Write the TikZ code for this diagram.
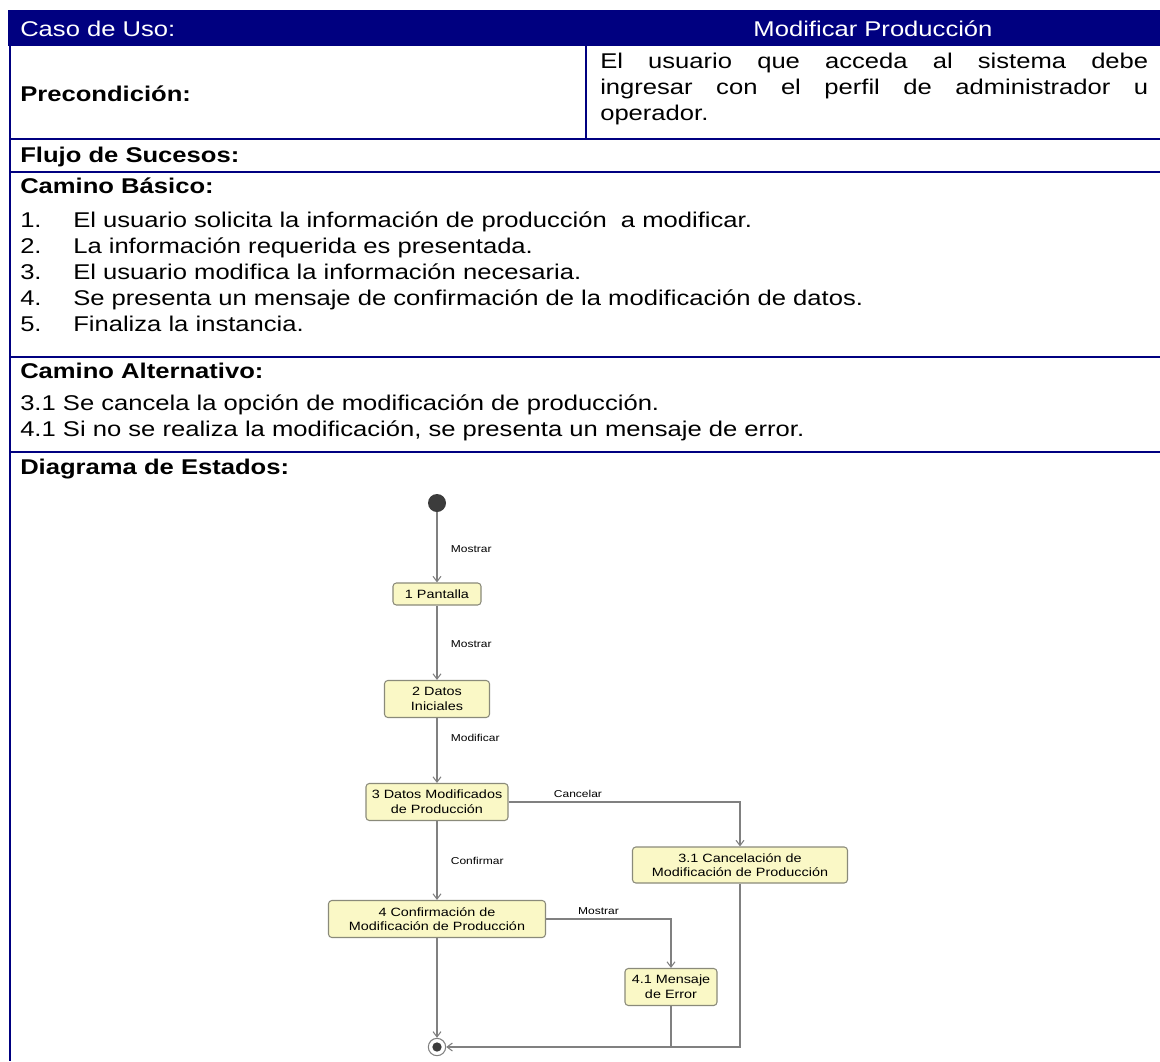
\documentclass[tikz,border=0pt]{standalone}
\usepackage{fontspec}
\setmainfont{Liberation Sans}[FakeStretch=1.2]
\newfontfamily\diagfont{Liberation Sans}[FakeStretch=1.2]
\usetikzlibrary{arrows.meta}
\definecolor{navy}{HTML}{000080}
\definecolor{statefill}{HTML}{FAF8C6}
\definecolor{stateline}{HTML}{8A8A7A}
\definecolor{wire}{HTML}{808080}
\definecolor{dot}{HTML}{3C3C3C}
\begin{document}
\begin{tikzpicture}[x=0.75pt,y=-0.75pt,
  rule/.style={navy, line width=1.5pt},
  txt/.style={anchor=base west, inner sep=0pt, font=\fontsize{16}{19}\selectfont},
  head/.style={anchor=base west, inner sep=0pt, font=\fontsize{16}{19}\selectfont\bfseries},
  state/.style={draw=stateline, fill=statefill, rounded corners=2.5pt, align=center,
    inner sep=1pt, line width=0.8pt, font=\diagfont\fontsize{9}{11}\selectfont},
  trans/.style={draw=wire, line width=0.8pt, -{Straight Barb[length=4pt,width=6pt]}},
  wireline/.style={draw=wire, line width=0.8pt},
  lbl/.style={font=\diagfont\fontsize{7.5}{9}\selectfont, inner sep=1pt},
]
\useasboundingbox (0,0) rectangle (1160,1061);

% ---- table frame ----
\fill[navy] (8,10) rectangle (1160,46);
\draw[rule] (10,46) -- (10,1061);
\draw[rule] (586,46) -- (586,139);
\draw[rule] (9,139) -- (1160,139);
\draw[rule] (9,172) -- (1160,172);
\draw[rule] (9,357) -- (1160,357);
\draw[rule] (9,452) -- (1160,452);

% ---- table texts ----
\node[txt, text=white] (caso) at (20,36) {Caso de Uso:};
\node[anchor=base, inner sep=0pt, text=white, font=\fontsize{16}{19}\selectfont] (nombre) at (873,36) {Modificar Producción};
\node[head] (pre) at (20,101) {Precondición:};
\node[txt] (pre1) at (600,68) {\makebox[411pt][s]{El usuario que acceda al sistema debe}};
\node[txt] (pre2) at (600,94) {\makebox[411pt][s]{ingresar con el perfil de administrador u}};
\node[txt] (pre3) at (600,120) {operador.};
\node[head] (flujo) at (20,162) {Flujo de Sucesos:};
\node[head] (basico) at (20,193) {Camino Básico:};
\foreach \n/\y/\t in {1/227/{El usuario solicita la información de producción\ \ a modificar.},
                      2/253/{La información requerida es presentada.},
                      3/279/{El usuario modifica la información necesaria.},
                      4/305/{Se presenta un mensaje de confirmación de la modificación de datos.},
                      5/331/{Finaliza la instancia.}} {
  \node[txt] (num\n) at (20,\y) {\n.};
  \node[txt] (paso\n) at (73,\y) {\t};
}
\node[head] (alterno) at (20,378) {Camino Alternativo:};
\node[txt] (alt1) at (20,410) {3.1 Se cancela la opción de modificación de producción.};
\node[txt] (alt2) at (20,436) {4.1 Si no se realiza la modificación, se presenta un mensaje de error.};
\node[head] (estados) at (20,474) {Diagrama de Estados:};

% ---- state diagram ----
\node[circle, fill=dot, minimum size=13.5pt, inner sep=0pt] (init) at (437,503) {};
\node[state, minimum width=66pt, minimum height=16.5pt] (s1) at (437,594) {1 Pantalla};
\node[state, minimum width=78.75pt, minimum height=27.75pt] (s2) at (437,699) {2 Datos\\Iniciales};
\node[state, minimum width=106.5pt, minimum height=27.75pt] (s3) at (437,802) {3 Datos Modificados\\de Producción};
\node[state, minimum width=161.25pt, minimum height=27pt] (s31) at (740,865) {3.1 Cancelación de\\Modificación de Producción};
\node[state, minimum width=162.75pt, minimum height=27.75pt] (s4) at (437,919) {4 Confirmación de\\Modificación de Producción};
\node[state, minimum width=69pt, minimum height=27.75pt] (s41) at (671,987) {4.1 Mensaje\\de Error};
\node[circle, draw=wire, fill=white, line width=0.8pt, minimum size=13pt, inner sep=0pt] (fin) at (437,1047) {};
\node[circle, fill=dot, minimum size=7pt, inner sep=0pt] (findot) at (fin) {};

\draw[trans] (init) -- (s1) node[lbl, anchor=west, pos=0.52, xshift=9pt] (m1) {Mostrar};
\draw[trans] (s1) -- (s2) node[lbl, anchor=west, pos=0.52, xshift=9pt] (m2) {Mostrar};
\draw[trans] (s2) -- (s3) node[lbl, anchor=west, pos=0.3, xshift=9pt] (m3) {Modificar};
\draw[trans] (s3) -- (s4) node[lbl, anchor=west, pos=0.5, xshift=9pt] (m4) {Confirmar};
\draw[trans] (s3.east) -| (s31.north) node[lbl, anchor=south, pos=0.15, yshift=2pt] (m5) {Cancelar};
\draw[trans] (s4.east) -| (s41.north) node[lbl, anchor=south, pos=0.21, yshift=2pt] (m6) {Mostrar};
\draw[trans] (s4) -- (fin);
\draw[trans] (s31.south) |- (fin.east);
\draw[wireline] (s41.south) -- (s41.south |- fin.center);
\end{tikzpicture}
\end{document}
